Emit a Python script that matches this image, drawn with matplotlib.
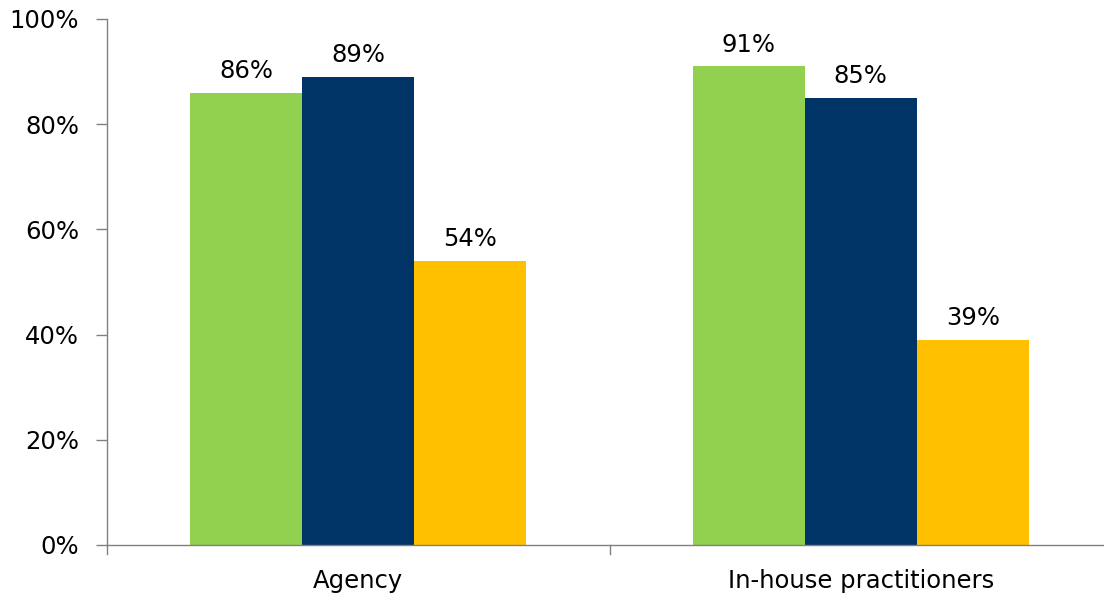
import numpy as np
import matplotlib
matplotlib.use('Agg')
import matplotlib.pyplot as plt

categories = ['Agency', 'In-house practitioners']
series_a = [86, 91]
series_b = [89, 85]
series_c = [54, 39]
yticks = [0, 20, 40, 60, 80, 100]

colors = ['#92D050', '#003366', '#FFC000']

W, H = 1104, 597
fig = plt.figure(figsize=(W / 100, H / 100), dpi=100)
left, right = 107, 1104
bottom, top = 545, 19
ax = fig.add_axes([left / W, (H - bottom) / H, (right - left) / W, (bottom - top) / H])

fs = 17.5
cat_px = 502.5
bw = 112 / cat_px
x = np.arange(len(categories))
for i, (vals, c) in enumerate(zip([series_a, series_b, series_c], colors)):
    pos = x + (i - 1) * bw
    ax.bar(pos, vals, width=bw, color=c, edgecolor='none', zorder=2)
    for p, v in zip(pos, vals):
        ax.text(p, v + 1.8, f'{v}%', ha='center', va='bottom', fontsize=fs, color='black')

ax.set_xlim(-0.5, -0.5 + (right - left) / cat_px)
ax.set_ylim(0, 100)
ax.set_yticks(yticks)
ax.set_yticklabels([f'{t}%' for t in yticks], fontsize=fs)
ax.set_xticks(x)
ax.set_xticklabels(categories, fontsize=fs)
ax.tick_params(axis='x', length=0, pad=17)
ax.tick_params(axis='y', length=8, color='#808080', width=1, pad=12)
# category boundary ticks
for b in [-0.5, 0.5, 1.5]:
    ax.plot([b, b], [0, -1.7], color='#808080', lw=1, clip_on=False)

for s in ['top', 'right']:
    ax.spines[s].set_visible(False)
for s in ['left', 'bottom']:
    ax.spines[s].set_color('#808080')
    ax.spines[s].set_linewidth(1)

fig.savefig('out.png', dpi=100)
